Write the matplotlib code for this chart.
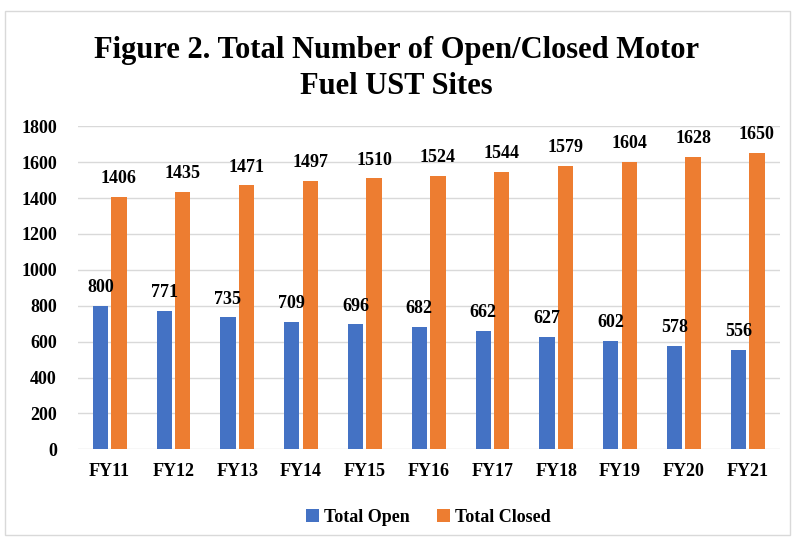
import numpy as np
import matplotlib.pyplot as plt
from matplotlib.patches import Rectangle

years = ['FY11', 'FY12', 'FY13', 'FY14', 'FY15', 'FY16', 'FY17', 'FY18', 'FY19', 'FY20', 'FY21']
total_open = [800, 771, 735, 709, 696, 682, 662, 627, 602, 578, 556]
total_closed = [1406, 1435, 1471, 1497, 1510, 1524, 1544, 1579, 1604, 1628, 1650]

plt.rcParams['font.family'] = ['Liberation Serif', 'DejaVu Serif']
plt.rcParams['font.weight'] = 'bold'

fig = plt.figure(figsize=(7.93, 5.4), dpi=100)
ax = fig.add_axes([0.098, 0.168, 0.885, 0.598])

x = np.arange(len(years))
w = 0.24
b1 = ax.bar(x - 0.145, total_open, w, color='#4472C4', label='Total Open', zorder=3)
b2 = ax.bar(x + 0.145, total_closed, w, color='#ED7D31', label='Total Closed', zorder=3)

for rect, v in zip(b1, total_open):
    ax.text(rect.get_x() + rect.get_width() / 2, v + 55, str(v), ha='center', va='bottom',
            fontsize=13, fontweight='bold')
for rect, v in zip(b2, total_closed):
    ax.text(rect.get_x() + rect.get_width() / 2, v + 55, str(v), ha='center', va='bottom',
            fontsize=13, fontweight='bold')

ax.set_ylim(0, 1800)
ax.set_yticks(range(0, 1801, 200))
ax.set_xlim(-0.5, len(years) - 0.5)
ax.set_xticks(x)
ax.set_xticklabels(years)
ax.tick_params(axis='both', length=0, labelsize=13, pad=10)
ax.tick_params(axis='y', pad=15)
for lbl in ax.get_xticklabels() + ax.get_yticklabels():
    lbl.set_fontweight('bold')
ax.grid(axis='y', color='#D9D9D9', linewidth=1, zorder=0)
for s in ax.spines.values():
    s.set_visible(False)

fig.text(0.5, 0.873, 'Figure 2. Total Number of Open/Closed Motor\nFuel UST Sites', ha='center', va='center',
         fontsize=22, fontweight='bold', linespacing=1.3)

ax.legend(loc='upper center', bbox_to_anchor=(0.5, -0.135), ncol=2, frameon=False, fontsize=13,
          handlelength=0.7, handleheight=0.7, handletextpad=0.3, columnspacing=1.5)

fig.patches.append(Rectangle((0.006, 0.01), 0.99, 0.97, transform=fig.transFigure, fill=False,
                             edgecolor='#D9D9D9', linewidth=1))

fig.savefig('out.png', dpi=100)
